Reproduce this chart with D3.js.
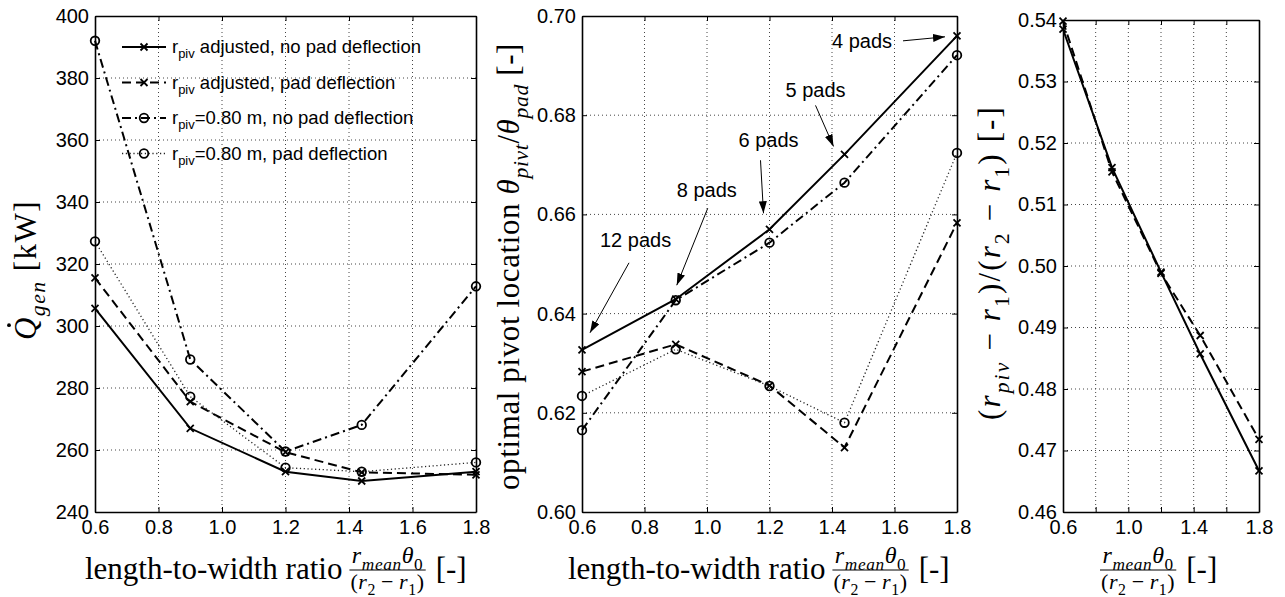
<!DOCTYPE html>
<html>
<head>
<meta charset="utf-8">
<script src="https://cdn.jsdelivr.net/npm/d3@7"></script>
<style>
  body { margin: 0; background: #fff; }
</style>
</head>
<body>
<svg id="chart" width="1285" height="597"></svg>
<script>
// length-to-width ratio, same for all panels
const ratios = [0.6, 0.9, 1.2, 1.44, 1.8];

// panel 1: generated heat [kW]
const qAdjNoDefl = [305.7, 267.0, 253.0, 250.0, 253.0];
const qAdjDefl   = [315.5, 275.6, 259.3, 252.8, 252.0];
const qFixNoDefl = [392.0, 289.2, 259.5, 268.1, 312.8];
const qFixDefl   = [327.3, 277.2, 254.3, 253.0, 256.0];

// panel 2: optimal pivot location theta_pivt/theta_pad
const pivAdjNoDefl = [0.6327, 0.6429, 0.6570, 0.6721, 0.6960];
const pivAdjDefl   = [0.6283, 0.6338, 0.6255, 0.6130, 0.6583];
const pivFixNoDefl = [0.6165, 0.6427, 0.6543, 0.6664, 0.6921];
const pivFixDefl   = [0.6234, 0.6328, 0.6254, 0.6180, 0.6724];

// panel 3: (r_piv - r1)/(r2 - r1)
const relAdjNoDefl = [0.5385, 0.5160, 0.4990, 0.4857, 0.4667];
const relAdjDefl   = [0.5398, 0.5153, 0.4988, 0.4887, 0.4718];

const xTicks = [0.6, 0.8, 1.0, 1.2, 1.4, 1.6, 1.8];
const xTicksLabelledRight = [0.6, 1.0, 1.4, 1.8];
const qTicks = [240, 260, 280, 300, 320, 340, 360, 380, 400];
const pivTicks = [0.60, 0.62, 0.64, 0.66, 0.68, 0.70];
const relTicks = [0.46, 0.47, 0.48, 0.49, 0.50, 0.51, 0.52, 0.53, 0.54];

const legendRest = [" adjusted, no pad deflection", " adjusted, pad deflection", "=0.80 m, no pad deflection", "=0.80 m, pad deflection"];
const padLabels = ["12 pads", "8 pads", "6 pads", "5 pads", "4 pads"];

const sans = "'Liberation Sans', Arial, sans-serif";
const serif = "'Liberation Serif', 'Times New Roman', serif";

// line styles for the 4 cases
const styles = [
  { dash: null, marker: "x", width: 2, color: "#000" },
  { dash: "9,5", marker: "x", width: 2, color: "#000" },
  { dash: "9,4,2,4", marker: "o", width: 2, color: "#000" },
  { dash: "1.2,2.6", marker: "o", width: 1.3, color: "#222" }
];

const svg = d3.select("#chart");

const defs = svg.append("defs");
defs.append("marker")
  .attr("id", "arrow")
  .attr("markerUnits", "userSpaceOnUse")
  .attr("markerWidth", 13).attr("markerHeight", 8)
  .attr("refX", 12).attr("refY", 4)
  .attr("orient", "auto")
  .append("path").attr("d", "M0,0L12,4L0,8Z").attr("fill", "#000");

function drawMarker(g, type, x, y) {
  if (type === "x") {
    g.append("path")
      .attr("d", `M${x-3.5},${y-3.5}L${x+3.5},${y+3.5}M${x-3.5},${y+3.5}L${x+3.5},${y-3.5}`)
      .attr("stroke", "#000").attr("stroke-width", 1.8).attr("fill", "none");
  } else {
    g.append("circle").attr("cx", x).attr("cy", y).attr("r", 4.3)
      .attr("stroke", "#000").attr("stroke-width", 1.8).attr("fill", "none");
  }
}

// rich text: parts = [{t, it, sub}]
function rich(text, parts, size, subScale) {
  const ss = subScale || 0.7;
  let shift = 0;
  parts.forEach(p => {
    const ts = text.append("tspan").text(p.t);
    if (p.it) ts.attr("font-style", "italic");
    const target = p.sub ? size * 0.28 : 0;
    if (target !== shift) { ts.attr("dy", target - shift); shift = target; }
    ts.attr("font-size", p.sub ? size * ss : size);
  });
}

function drawPanel(p) {
  const g = svg.append("g");
  const x = d3.scaleLinear().domain([0.6, 1.8]).range([p.x0, p.x1]);
  const y = d3.scaleLinear().domain(p.yDomain).range([p.y1, p.y0]);

  // dotted grid
  const grid = g.append("g").attr("stroke", "#444").attr("stroke-width", 1).attr("stroke-dasharray", "1,3");
  xTicks.slice(1, -1).forEach(v => {
    grid.append("line").attr("x1", x(v)).attr("x2", x(v)).attr("y1", p.y0).attr("y2", p.y1);
  });
  p.yTicks.slice(1, -1).forEach(v => {
    grid.append("line").attr("x1", p.x0).attr("x2", p.x1).attr("y1", y(v)).attr("y2", y(v));
  });

  const axB = d3.axisBottom(x).tickValues(xTicks).tickSizeInner(-5).tickSizeOuter(0).tickPadding(8)
    .tickFormat(v => p.xLabelled.some(l => Math.abs(l - v) < 1e-9) ? d3.format(".1f")(v) : "");
  const axT = d3.axisTop(x).tickValues(xTicks).tickSizeInner(-5).tickSizeOuter(0).tickFormat("");
  const axL = d3.axisLeft(y).tickValues(p.yTicks).tickSizeInner(-5).tickSizeOuter(0).tickPadding(6).tickFormat(d3.format(p.yFmt));
  const axR = d3.axisRight(y).tickValues(p.yTicks).tickSizeInner(-5).tickSizeOuter(0).tickFormat("");

  [[axB, `translate(0,${p.y1})`], [axT, `translate(0,${p.y0})`], [axL, `translate(${p.x0},0)`], [axR, `translate(${p.x1},0)`]]
    .forEach(([ax, tr]) => {
      const a = g.append("g").attr("transform", tr).call(ax);
      a.select(".domain").attr("stroke", "#000").attr("stroke-width", 1.6);
      a.selectAll(".tick line").attr("stroke", "#000").attr("stroke-width", 1);
      a.selectAll("text").attr("font-family", sans).attr("font-size", 20).attr("fill", "#000");
    });

  const line = d3.line().x((d, i) => x(ratios[i])).y(d => y(d));
  p.series.forEach((vals, k) => {
    const st = styles[k];
    g.append("path").attr("d", line(vals))
      .attr("fill", "none").attr("stroke", st.color).attr("stroke-width", st.width)
      .attr("stroke-dasharray", st.dash);
    vals.forEach((v, i) => drawMarker(g, st.marker, x(ratios[i]), y(v)));
  });
  return { g, x, y };
}

const p1 = drawPanel({ x0: 95, x1: 476, y0: 16, y1: 512, yDomain: [240, 400], yTicks: qTicks, yFmt: "d",
  xLabelled: xTicks, series: [qAdjNoDefl, qAdjDefl, qFixNoDefl, qFixDefl] });
const p2 = drawPanel({ x0: 582, x1: 957, y0: 16, y1: 512, yDomain: [0.60, 0.70], yTicks: pivTicks, yFmt: ".2f",
  xLabelled: xTicks, series: [pivAdjNoDefl, pivAdjDefl, pivFixNoDefl, pivFixDefl] });
const p3 = drawPanel({ x0: 1063, x1: 1259, y0: 20, y1: 512, yDomain: [0.46, 0.54], yTicks: relTicks, yFmt: ".2f",
  xLabelled: xTicksLabelledRight, series: [relAdjNoDefl, relAdjDefl] });

// legend (no box)
const leg = svg.append("g");
legendRest.forEach((txt, i) => {
  const ly = 47 + i * 35.5;
  const st = styles[i];
  leg.append("line").attr("x1", 122).attr("x2", 166).attr("y1", ly).attr("y2", ly)
    .attr("stroke", st.color).attr("stroke-width", st.width).attr("stroke-dasharray", st.dash);
  drawMarker(leg, st.marker, 144, ly);
  const t = leg.append("text").attr("x", 172).attr("y", ly + 6).attr("font-family", sans);
  rich(t, [{ t: "r" }, { t: "piv", sub: true }, { t: txt }], 18.5);
});

// pad-count annotations in the middle panel: offsets from the data point
const padNotes = [
  { tx: 18, ty: -103, ax: 47, ay: -87, bx: 8, by: -17 },
  { tx: 1, ty: -102, ax: 32, ay: -91, bx: 1, by: -14 },
  { tx: -31, ty: -82, ax: -9, ay: -69, bx: -6, by: -16 },
  { tx: -59, ty: -57, ax: -29, ay: -49, bx: -11, by: -8 },
  { tx: -125, ty: 12, ax: -54, ay: 5, bx: -12, by: 1 }
];
padLabels.forEach((lab, i) => {
  const px = p2.x(ratios[i]), py = p2.y(pivAdjNoDefl[i]);
  const n = padNotes[i];
  svg.append("text").attr("x", px + n.tx).attr("y", py + n.ty)
    .attr("font-family", sans).attr("font-size", 20).text(lab);
  svg.append("line").attr("x1", px + n.ax).attr("y1", py + n.ay).attr("x2", px + n.bx).attr("y2", py + n.by)
    .attr("stroke", "#000").attr("stroke-width", 1).attr("marker-end", "url(#arrow)");
});

// x axis labels
function xLabel(x0, withWords) {
  const g = svg.append("g");
  let cur = x0;
  if (withWords) {
    const t = g.append("text").attr("x", cur).attr("y", 579)
      .attr("font-family", serif).attr("font-size", 31).text("length-to-width ratio");
    cur += t.node().getComputedTextLength() + 7;
  }
  const num = g.append("text").attr("y", 563).attr("font-family", serif).attr("letter-spacing", 0.6);
  rich(num, [{ t: "r", it: true }, { t: "mean", it: true, sub: true }, { t: "θ", it: true }, { t: "0", sub: true }], 24, 0.72);
  const den = g.append("text").attr("y", 589).attr("font-family", serif).attr("letter-spacing", 0.6);
  rich(den, [{ t: "(" }, { t: "r", it: true }, { t: "2", sub: true }, { t: "\u2009−\u2009" }, { t: "r", it: true }, { t: "1", sub: true }, { t: ")" }], 22, 0.72);
  const wn = num.node().getComputedTextLength(), wd = den.node().getComputedTextLength();
  const w = Math.max(wn, wd) + 2;
  num.attr("x", cur + (w - wn) / 2);
  den.attr("x", cur + (w - wd) / 2);
  g.append("line").attr("x1", cur).attr("x2", cur + w).attr("y1", 570).attr("y2", 570)
    .attr("stroke", "#000").attr("stroke-width", 1);
  cur += w + 10;
  g.append("text").attr("x", cur).attr("y", 579).attr("font-family", serif).attr("font-size", 31).text("[-]");
}
xLabel(85, true);
xLabel(568, true);
xLabel(1100, false);

// y axis labels, fitted on screen between top and bottom
function yLabel(cx, top, bottom, parts, dot) {
  const g = svg.append("g").attr("transform", `translate(${cx},0) rotate(-90)`);
  const t = g.append("text").attr("x", 0).attr("y", 0).attr("font-family", serif);
  rich(t, parts, 31);
  const n = parts.reduce((s, p) => s + p.t.length, 0);
  let ls = 0;
  for (let k = 0; k < 3; k++) {
    const r = t.node().getBoundingClientRect();
    ls += ((bottom - top) - r.height) / n;
    t.attr("letter-spacing", ls);
  }
  const r = t.node().getBoundingClientRect();
  const svgTop = svg.node().getBoundingClientRect().top;
  // rotated -90: local x = -screen y
  t.attr("x", -((top + bottom) / 2) + ((r.top + r.bottom) / 2 - svgTop));
  if (dot) {
    const e = t.node().getExtentOfChar(0);
    g.append("circle").attr("cx", e.x + e.width * 0.62).attr("cy", e.y + 1).attr("r", 1.9).attr("fill", "#000");
  }
}
yLabel(36, 200, 340, [{ t: "Q", it: true }, { t: "gen", it: true, sub: true }, { t: " [kW]" }], true);
yLabel(519, 43, 490, [{ t: "optimal pivot location " }, { t: "θ", it: true }, { t: "pivt", it: true, sub: true },
  { t: "/" }, { t: "θ", it: true }, { t: "pad", it: true, sub: true }, { t: " [-]" }], false);
yLabel(1000, 105, 420, [{ t: "(" }, { t: "r", it: true }, { t: "piv", it: true, sub: true }, { t: " − " }, { t: "r", it: true },
  { t: "1", sub: true }, { t: ")/(" }, { t: "r", it: true }, { t: "2", sub: true }, { t: " − " }, { t: "r", it: true },
  { t: "1", sub: true }, { t: ") [-]" }], false);
</script>
</body>
</html>
